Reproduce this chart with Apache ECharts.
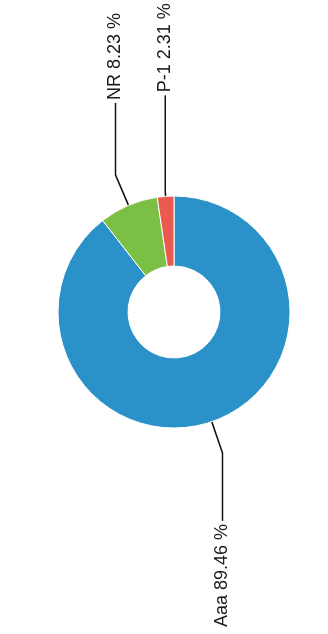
<!DOCTYPE html>
<html>
<head>
<meta charset="utf-8">
<script src="https://cdn.jsdelivr.net/npm/echarts@6/dist/echarts.min.js"></script>
<style>
  html, body { margin: 0; padding: 0; background: #ffffff; overflow: hidden; }
  body { width: 328px; height: 634px; position: relative; }
  /* landscape chart, turned to read bottom-to-top */
  #chart {
    position: absolute;
    width: 634px; height: 328px;
    left: -153px; top: 153px;
    transform: rotate(-90deg);
    transform-origin: 50% 50%;
  }
</style>
</head>
<body>
<div id="chart"></div>
<script>
// Rating distribution
const categories = ['Aaa', 'NR', 'P-1'];
const shares = [89.46, 8.23, 2.31];
const colors = ['#2a92c9', '#7cbf45', '#ea5a4e'];

const chart = echarts.init(document.getElementById('chart'), null, { renderer: 'canvas' });

// the thin P-1 wedge gets a single straight leader
const leaderLines = [
  { length: 33, length2: 68 },
  { length: 33, length2: 72 },
  { length: 4, length2: 97 }
];

chart.setOption({
  animation: false,
  backgroundColor: '#ffffff',
  series: [{
    type: 'pie',
    center: [322, 174],
    radius: [46, 116],
    startAngle: 0,
    clockwise: true,
    avoidLabelOverlap: true,
    data: categories.map((name, i) => ({
      name: name,
      value: shares[i],
      itemStyle: { color: colors[i] },
      labelLine: leaderLines[i]
    })),
    itemStyle: { borderColor: '#ffffff', borderWidth: 1 },
    label: {
      show: true,
      position: 'outside',
      overflow: 'none',
      width: 200,
      formatter: p => p.name + ' ' + p.value.toFixed(2) + ' %',
      fontFamily: 'Liberation Sans, Arial, sans-serif',
      fontSize: 18,
      color: '#1a1a1a',
      distanceToLabelLine: 3
    },
    labelLine: {
      show: true,
      smooth: false,
      lineStyle: { color: '#111111', width: 1.6 }
    },
    emphasis: { disabled: true }
  }]
});
</script>
</body>
</html>
